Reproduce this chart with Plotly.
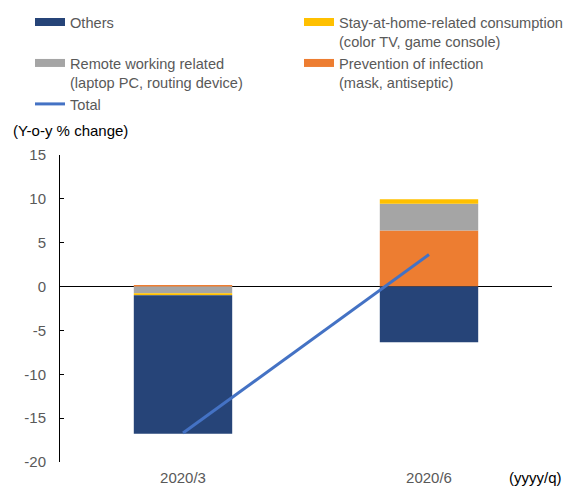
import plotly.graph_objects as go

categories = ["2020/3", "2020/6"]
prevention = [0.1, 6.4]
remote_working = [-0.76, 3.04]
stay_at_home = [-0.23, 0.52]
others = [-15.8, -6.35]
total = [-16.7, 3.65]

y_ticks = [15, 10, 5, 0, -5, -10, -15, -20]
y_tick_labels = ["15", "10", "5", "0", "-5", "-10", "-15", "-20"]

C_OTHERS = "#264478"
C_STAY = "#FFC000"
C_REMOTE = "#A5A5A5"
C_PREV = "#ED7D31"
C_TOTAL = "#4472C4"

FONT = "Liberation Sans, Arial, sans-serif"
GRAY_TXT = "#595959"
FS = 15
FS_LEG = 14.6

# page has an 8px body margin; figure laid out in page coordinates minus offset
OFF = 8
W, H = 572 - OFF, 488 - OFF
PL, PT, PR, PB = 60, 155, 552, 462  # plot area in page pixels
L, T = PL - OFF, PT - OFF
R, B = W - (PR - OFF), H - (PB - OFF)
PW, PH = W - L - R, H - T - B


def px(xp):
    return (xp - OFF - L) / PW


def py(yp):
    return 1 - (yp - OFF - T) / PH


fig = go.Figure()

bar_series = [
    ("Prevention of infection<br>(mask, antiseptic)", prevention, C_PREV, 4),
    ("Remote working related<br>(laptop PC, routing device)", remote_working, C_REMOTE, 3),
    ("Stay-at-home-related consumption<br>(color TV, game console)", stay_at_home, C_STAY, 2),
    ("Others", others, C_OTHERS, 1),
]

for name, vals, col, rank in bar_series:
    fig.add_trace(go.Bar(x=categories, y=vals, name=name, marker=dict(color=col, line=dict(width=0)),
                         width=0.4, showlegend=False))

fig.add_trace(go.Scatter(x=categories, y=total, name="Total", mode="lines",
                         line=dict(color=C_TOTAL, width=3), showlegend=False))

# legend proxies
for name, vals, col, rank in bar_series:
    fig.add_trace(go.Scatter(x=[None], y=[None], name=name, mode="lines",
                             line=dict(color=col, width=8), legendrank=rank))
fig.add_trace(go.Scatter(x=[None], y=[None], name="Total", mode="lines",
                         line=dict(color=C_TOTAL, width=3), legendrank=5))

fig.update_layout(
    width=W, height=H,
    margin=dict(l=L, r=R, t=T, b=B, autoexpand=False),
    barmode="relative",
    plot_bgcolor="white", paper_bgcolor="white",
    font=dict(family=FONT, size=FS, color=GRAY_TXT),
    showlegend=True,
    legend=dict(orientation="h", xref="paper", yref="paper",
                x=px(30), y=py(6), xanchor="left", yanchor="top",
                entrywidth=224, entrywidthmode="pixels",
                valign="top", tracegroupgap=0,
                font=dict(family=FONT, size=FS_LEG, color=GRAY_TXT),
                bgcolor="rgba(0,0,0,0)"),
    xaxis=dict(showline=False, showgrid=False, zeroline=False, ticks="",
               ticklabelstandoff=5,
               tickfont=dict(size=FS, color=GRAY_TXT)),
    yaxis=dict(range=[-20, 15], tickvals=y_ticks, ticktext=y_tick_labels, showgrid=False,
               showline=True, linecolor="#000000", linewidth=1,
               ticks="inside", ticklen=4, tickcolor="#000000",
               ticklabelstandoff=10,
               zeroline=True, zerolinecolor="#000000", zerolinewidth=1,
               tickfont=dict(size=FS, color=GRAY_TXT)),
    annotations=[
        dict(text="(Y-o-y % change)", xref="paper", yref="paper", x=px(11), y=py(131),
             xanchor="left", yanchor="middle", showarrow=False,
             font=dict(family=FONT, size=FS, color="#000000")),
        dict(text="(yyyy/q)", xref="paper", yref="paper", x=px(564), y=py(477),
             xanchor="right", yanchor="middle", showarrow=False,
             font=dict(family=FONT, size=FS, color="#000000")),
    ],
)

fig.write_html("out.html")
